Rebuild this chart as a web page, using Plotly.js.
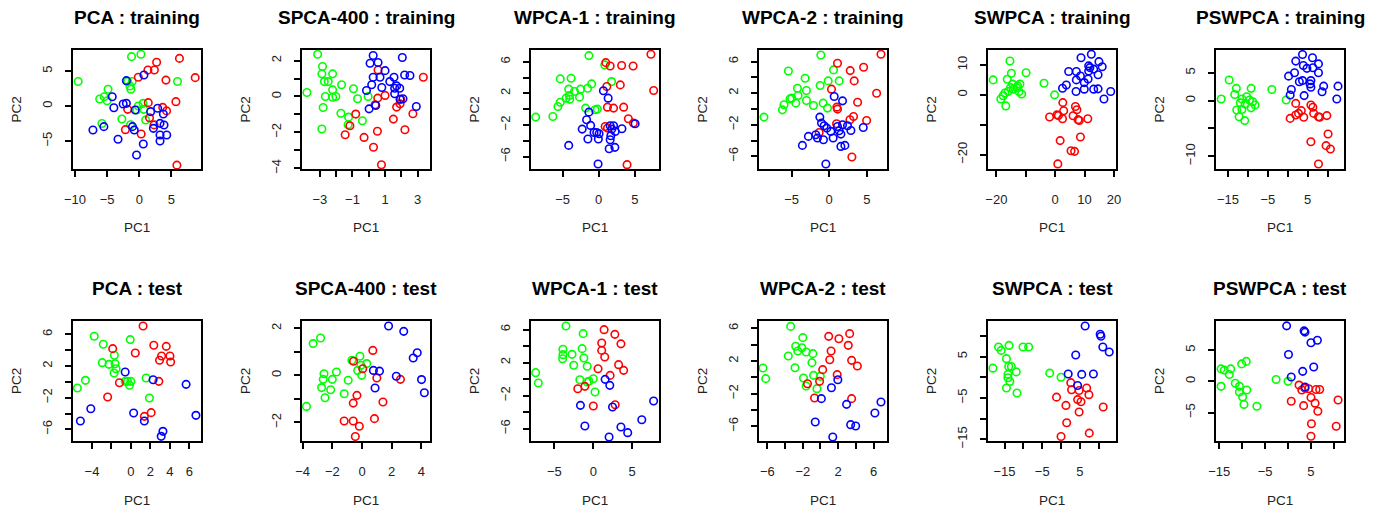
<!DOCTYPE html>
<html><head><meta charset="utf-8">
<script src="https://cdn.plot.ly/plotly-3.0.1.min.js"></script>
<style>body{margin:0;background:#fff}#chart{width:1373px;height:510px}</style>
</head><body><div id="chart"></div>
<script>
// ---------- titles ----------
const panelTitles = ["PCA : training","SPCA-400 : training","WPCA-1 : training","WPCA-2 : training","SWPCA : training","PSWPCA : training",
                     "PCA : test","SPCA-400 : test","WPCA-1 : test","WPCA-2 : test","SWPCA : test","PSWPCA : test"];
const xLabel = "PC1", yLabel = "PC2";

// ---------- data: [PC1, PC2] ----------
// PCA training
const pcaTrainGreen = [[-9.5,3.5],[-1.2,7.05],[0.26,7.4],[-1.8,3.5],[-1.1,3.5],[-1.45,2.86],[-1.3,2.4],[-4.85,2.4],[-6.15,1.0],[-5.45,1.33],[-5.0,0.76],[-5.8,-2.5],[-2.7,-1.86],[-1.35,-2.67],[-0.15,0],[-0.4,-0.57],[0.6,0.38],[0.7,-0.48],[1.0,-2.0],[5.95,3.5]];
const pcaTrainRed = [[6.25,6.8],[2.7,6.25],[1.35,5.15],[2.35,5.15],[-0.15,4.1],[4.15,3.7],[8.7,4.05],[5.7,0.62],[1.4,0.48],[3.65,-0.2],[4.25,-0.7],[-1.8,-0.48],[1.6,-1.67],[2.3,-2.7],[-2.15,-3.38],[0.3,-4.0],[5.85,-8.45]];
const pcaTrainBlue = [[0.73,4.43],[-2.0,3.62],[-4.2,1.33],[-3.95,-0.24],[-2.5,0.29],[-2.0,0.38],[-0.63,-0.57],[1.77,-0.81],[2.86,-0.33],[3.75,-1.14],[3.23,-2.48],[3.85,-2.71],[2.2,-3.19],[-1.05,-2.95],[-0.78,-3.43],[-7.2,-3.43],[-5.5,-2.95],[-3.3,-4.76],[3.23,-4.14],[4.27,-4.14],[3.23,-5.0],[0.63,-5.43],[-0.42,-7.0]];
// SPCA-400 training
const spcaTrainGreen = [[-3.14,2.35],[-2.84,1.67],[-2.88,1.26],[-2.22,1.26],[-2.73,0.83],[-2.49,0.83],[-3.8,0.22],[-2.67,0],[-2.22,0.37],[-2.22,-0.04],[-2.02,0],[-1.67,0.65],[-0.94,0.43],[-0.69,-0.13],[-0.04,0],[-2.8,-0.61],[-1.71,-0.93],[-1.24,-1.15],[-1.27,-1.57],[-0.39,-1.35],[-2.88,-1.81]];
const spcaTrainRed = [[0.57,1.48],[3.35,1.07],[1.0,0.06],[0.55,-0.09],[0.39,-0.46],[1.96,-0.15],[1.92,-0.41],[1.71,-0.59],[-0.8,-0.98],[1.51,-1.26],[2.71,-0.96],[2.22,-1.85],[-1.16,-1.63],[-1.45,-2.13],[-0.29,-2.28],[0.53,-1.94],[0.29,-2.83],[0.78,-3.8]];
const spcaTrainBlue = [[0.27,2.28],[0.08,1.85],[0.57,1.89],[2.06,2.17],[1.0,1.44],[0.27,1.07],[0.69,1.07],[1.55,1.07],[2.2,1.2],[2.53,1.17],[1.29,0.83],[0.18,0.65],[-0.14,0.33],[0.8,0.5],[1.59,0.46],[1.71,0.59],[1.9,0.46],[1.59,0.15],[1.92,-0.15],[2.1,-0.13],[0.43,-0.5],[0.02,-0.69],[2.92,-0.56]];
// WPCA-1 training
const wpca1TrainGreen = [[-1.36,6.78],[0.84,5.6],[-5.33,3.83],[-3.83,3.92],[1.78,3.49],[-4.16,2.53],[-3.36,2.23],[-2.52,2.53],[-1.54,2.65],[-0.98,3.2],[-4.07,1.73],[-4.53,1.39],[-4.02,1.26],[-2.66,1.52],[-5.33,0.88],[-5.65,0.34],[-6.36,-0.93],[-8.74,-1.01],[-1.82,0.13],[-0.51,-0.08],[-0.19,0]];
const wpca1TrainRed = [[7.24,6.95],[0.98,5.89],[1.59,5.47],[3.18,5.52],[4.77,5.47],[1.12,2.86],[2.99,3.07],[7.62,2.36],[1.21,0.25],[2.06,0.13],[3.46,0.25],[4.11,-1.22],[4.81,-1.77],[0.89,-2.19],[1.21,-2.4],[3.93,-7.03]];
const wpca1TrainBlue = [[0.65,2.32],[1.31,1.39],[-1.36,-0.38],[-1.68,-1.35],[-1.12,-2.06],[-2.29,-2.53],[-0.65,-2.95],[-0.28,-2.95],[0.05,-3.12],[-1.5,-3.79],[-0.05,-3.79],[1.59,-2.11],[2.06,-2.11],[1.82,-2.53],[2.29,-2.82],[3.22,-2.48],[1.68,-3.37],[1.59,-3.87],[5.05,-1.85],[-4.16,-4.59],[1.45,-5.01],[2.24,-4.84],[-0.09,-6.95]];
// WPCA-2 training
const wpca2TrainGreen = [[-8.67,-1.03],[-1.11,6.84],[-5.42,4.82],[-3.2,3.89],[-3.02,2.34],[-4.22,2.63],[-4.13,1.71],[-5.2,1.28],[-4.98,1.37],[-4.44,0.74],[-6.0,0.53],[-6.22,-0.11],[-3.02,1.07],[-2.09,0.44],[-1.2,2.97],[-0.13,3.56],[1.33,3.56],[0.58,4.95],[-0.8,0.74],[-0.22,0.11]];
const wpca2TrainRed = [[6.89,6.93],[1.11,5.79],[2.8,4.86],[4.58,5.28],[3.33,3.56],[0.31,2.51],[6.31,2.0],[3.78,0.86],[1.02,0.23],[1.11,-0.02],[3.24,-0.95],[2.76,-1.37],[4.98,-1.45],[0.98,-1.87],[-1.33,-2.97],[3.02,-6.08]];
const wpca2TrainBlue = [[0.67,1.58],[1.78,1.03],[-1.24,-1.03],[-1.02,-1.79],[-0.67,-2.13],[-0.31,-2.42],[0.22,-2.84],[-1.78,-3.26],[-1.56,-3.68],[-0.76,-3.89],[0.53,-3.68],[-2.76,-3.47],[-3.56,-4.61],[1.33,-2.76],[1.56,-3.18],[1.78,-2.0],[2.44,-2.13],[2.89,-2.72],[4.53,-2.34],[1.56,-4.74],[2.09,-4.61],[-0.44,-6.97],[1.11,-2.21]];
// SWPCA training
const swpcaTrainGreen = [[-21.1,5.0],[-15.4,11.3],[-14.9,7.2],[-16.3,5.2],[-9.9,7.4],[-14.5,3.6],[-15.2,2.4],[-16.0,1.1],[-17.1,0.6],[-18.5,-1.4],[-17.7,-0.3],[-16.8,-3.7],[-12.8,3.0],[-12.0,3.6],[-12.3,1.1],[-11.4,0.3],[-13.1,2.4],[-14.3,1.9],[-3.8,3.9],[-0.2,0]];
const swpcaTrainRed = [[2.6,-2.6],[2.9,-5.3],[2.5,-8.0],[0.6,-6.7],[1.1,-6.9],[-1.9,-7.4],[6.9,-3.9],[7.4,-5.0],[6.1,-7.0],[7.8,-8.3],[11.1,-8.0],[8.2,-8.6],[8.6,-14.1],[1.7,-15.3],[5.4,-18.7],[6.6,-18.9],[0.9,-23.1]];
const swpcaTrainBlue = [[12.3,13.6],[8.8,12.4],[14.9,11.1],[11.4,9.7],[11.8,9.1],[13.1,8.6],[16.0,9.4],[4.6,7.8],[7.2,7.8],[8.6,6.3],[7.2,5.0],[9.9,4.1],[11.2,5.3],[14.6,6.7],[11.4,8.0],[3.8,3.3],[2.5,2.2],[9.9,1.9],[7.1,1.1],[13.1,1.9],[14.6,2.0],[18.9,1.1],[16.6,-1.4]];
// PSWPCA training
const pswpcaTrainGreen = [[-16.7,0.3],[-14.7,3.7],[-12.9,2.2],[-13.3,1.1],[-11.5,0.3],[-11.9,-0.4],[-10.3,0.7],[-9.6,0.1],[-9.2,2.2],[-8.8,-0.2],[-8.2,-0.8],[-9.2,-1.3],[-10.7,-0.6],[-11.5,-1.6],[-12.8,-1.7],[-12.2,-2.9],[-10.8,-3.6],[-4.0,2.0],[-0.4,0.1]];
const pswpcaTrainRed = [[2.0,-0.5],[0.6,-3.2],[2.0,-2.6],[2.7,-2.3],[3.4,-1.8],[4.0,-3.0],[5.8,-0.8],[6.3,-1.2],[6.5,-2.3],[7.7,-2.9],[8.0,-3.0],[9.8,-2.7],[5.8,-7.4],[10.1,-6.0],[9.6,-8.1],[10.7,-8.7],[7.7,-11.4]];
const pswpcaTrainBlue = [[3.7,8.3],[6.2,7.7],[2.0,7.1],[3.9,6.3],[4.8,5.8],[6.3,5.9],[7.7,6.6],[7.7,5.0],[1.7,5.0],[0.2,4.4],[2.9,3.4],[3.7,3.6],[5.8,3.6],[5.6,3.0],[5.8,2.4],[9.0,2.6],[8.6,1.6],[12.6,2.6],[12.3,0.3],[0.9,2.0],[0.6,1.0],[4.1,0.9]];
// PCA test
const pcaTestGreen = [[-3.77,5.75],[-2.84,4.74],[-0.07,5.33],[-1.7,3.35],[-2.94,2.42],[-2.25,2.21],[-1.63,2.29],[-1.52,1.66],[-1.73,1.12],[-4.67,0.19],[-5.5,-0.78],[-0.59,0.06],[-0.35,0.06],[0,0.06],[-0.14,-0.44],[1.56,0.48],[1.9,-2.04]];
const pcaTestRed = [[1.25,7.05],[-1.87,4.19],[0.45,3.64],[2.35,4.61],[3.63,4.48],[3.15,3.26],[2.94,2.72],[4.01,3.26],[4.08,2.51],[-1.18,-0.11],[2.87,0.06],[-2.39,-1.92],[2.08,-3.89],[1.38,-4.36]];
const pcaTestBlue = [[-0.59,1.24],[2.28,0.27],[5.67,-0.32],[-4.12,-3.39],[-5.19,-4.95],[0.28,-3.94],[1.38,-4.95],[3.29,-6.25],[3.11,-6.88],[6.68,-4.23]];
// SPCA-400 test
const spcaTestGreen = [[-3.29,1.35],[-2.79,1.59],[-3.74,-1.32],[-2.56,0.07],[-2.61,-0.17],[-1.72,0.14],[-2.0,-0.17],[-2.72,-0.52],[-2.11,-0.61],[-2.49,-0.95],[-1.2,-0.78],[-0.93,-0.21],[-0.68,0.64],[-0.14,0.81],[0.32,0.5],[-0.29,0.21],[-0.02,0],[-0.07,0.43]];
const spcaTestRed = [[-0.57,0.6],[0.73,1.06],[0.05,0.28],[1.0,-0.11],[2.59,-0.17],[-0.34,-0.85],[-0.59,-1.18],[1.41,-1.13],[-1.2,-1.94],[-0.59,-1.94],[-0.18,-2.16],[0.84,-1.84],[-0.45,-2.6]];
const spcaTestBlue = [[1.79,2.1],[2.81,1.87],[3.72,0.96],[3.45,0.74],[0.77,0.21],[1.18,0.18],[2.31,-0.04],[4.01,-0.18],[0.88,-0.54],[4.2,-0.74]];
// WPCA-1 test
const wpca1TestGreen = [[-3.51,6.44],[-1.3,5.52],[-3.9,3.62],[-1.43,3.7],[-3.9,2.97],[-3.94,2.48],[-2.73,3.01],[-1.21,2.57],[-2.51,1.68],[-0.78,1.56],[-7.4,0.79],[-7.06,-0.46],[-1.73,-0.06],[-0.78,-0.34],[0,0.06],[0.22,-1.56],[-0.56,-0.26]];
const wpca1TestRed = [[1.39,6.0],[2.77,5.43],[3.55,4.28],[1.08,4.38],[1.08,3.49],[1.47,2.69],[3.25,1.76],[3.9,1.07],[0.61,1.27],[2.16,0.46],[-1.99,-1.15],[-1.08,-0.87],[2.81,-3.09],[0,-3.25]];
const wpca1TestBlue = [[1.52,-0.02],[2.12,-0.75],[7.75,-2.65],[-1.65,-3.17],[2.47,-3.37],[6.23,-4.91],[-1.08,-5.68],[3.55,-5.8],[4.42,-6.48],[2.03,-7.01]];
// WPCA-2 test
const wpca2TestGreen = [[-3.37,6.24],[-2.0,4.86],[-2.8,3.8],[-2.57,3.22],[-2.11,3.63],[-1.62,3.1],[-0.86,2.9],[-3.64,2.61],[-0.97,1.8],[-2.88,1.18],[-6.5,1.14],[-6.19,-0.16],[-1.92,-0.08],[-0.78,0.24],[-0.02,0.12],[-1.62,-1.06],[-0.4,-1.39]];
const wpca2TestRed = [[0.93,5.02],[2.08,4.73],[3.3,5.35],[3.14,3.92],[1.2,3.22],[1.05,2.16],[3.52,2.08],[4.17,1.39],[0.25,0.94],[1.89,0.33],[-0.1,-0.49],[-1.47,-0.78],[-0.67,-2.53],[3.52,-2.61]];
const wpca2TestBlue = [[1.96,-0.29],[1.24,-1.27],[0.1,-2.61],[2.95,-3.31],[6.84,-3.02],[6.15,-4.37],[-0.59,-5.47],[3.41,-5.8],[3.98,-5.96],[1.39,-7.31]];
// SWPCA test
const swpcaTestGreen = [[-18.1,2.2],[-16.6,7.3],[-15.9,6.5],[-13.8,7.7],[-14.5,4.5],[-13.9,2.6],[-13.2,2.6],[-11.9,1.3],[-14.1,0.7],[-14.1,-0.1],[-13.6,-1.0],[-14.5,-2.6],[-11.7,-3.8],[-10.1,7.3],[-8.6,7.3],[-3.0,1.0],[0,0]];
const swpcaTestRed = [[2.6,-1.3],[2.8,-3.0],[4.8,-3.2],[6.8,-2.6],[7.4,-4.2],[-1.2,-4.8],[1.3,-6.8],[4.4,-5.4],[5.3,-5.9],[4.8,-8.4],[11.2,-7.2],[1.5,-11.0],[7.5,-13.5],[0,-14.3]];
const swpcaTestBlue = [[6.4,12.4],[10.4,10.4],[10.6,9.9],[11.1,7.3],[12.8,6.1],[3.9,5.4],[1.9,0.8],[5.5,0.7],[8.6,0.8],[4.4,-2.0]];
// PSWPCA test
const pswpcaTestGreen = [[-14.6,2.0],[-13.9,1.8],[-12.5,2.0],[-12.8,1.1],[-10.1,2.8],[-9.1,3.2],[-14.6,-0.8],[-11.5,-0.3],[-10.6,-0.8],[-10.6,-1.7],[-9.0,-1.4],[-9.9,-2.5],[-9.6,-3.7],[-6.8,-4.0],[-2.6,0.3],[0,0]];
const pswpcaTestRed = [[2.4,-0.6],[3.0,-1.4],[4.5,-1.2],[6.1,-1.3],[6.9,-1.3],[0.7,-3.2],[3.4,-3.9],[5.0,-2.6],[5.9,-3.5],[6.5,-4.8],[10.9,-3.0],[5.1,-6.8],[10.5,-7.2],[5.0,-8.8],[3.7,-1.1]];
const pswpcaTestBlue = [[-0.3,8.9],[3.5,8.1],[3.7,7.9],[6.4,6.6],[5.0,6.2],[0.1,4.3],[5.6,2.3],[3.2,1.6],[0.7,0.7],[3.7,-0.9]];

// ---------- tick values and labels per panel ----------
const xTickVals = [[-10,-5,0,5],[-3,-2,-1,0,1,2,3],[-5,0,5],[-5,0,5],[-20,-10,0,10,20],[-15,-10,-5,0,5,10],
                   [-4,-2,0,2,4,6],[-4,-2,0,2,4],[-5,0,5],[-6,-4,-2,0,2,4,6],[-15,-10,-5,0,5,10],[-15,-10,-5,0,5,10]];
const xTickText = [["−10","−5","0","5"],["−3","","−1","","1","","3"],["−5","0","5"],["−5","0","5"],["−20","","0","10","20"],["−15","","−5","","5",""],
                   ["−4","","0","2","4","6"],["−4","−2","0","2","4"],["−5","0","5"],["−6","","−2","","2","","6"],["−15","","−5","","5",""],["−15","","−5","","5",""]];
const yTickVals = [[-5,0,5],[-4,-3,-2,-1,0,1,2],[-6,-4,-2,0,2,4,6],[-6,-4,-2,0,2,4,6],[-20,-10,0,10],[-10,-5,0,5],
                   [-6,-4,-2,0,2,4,6],[-2,-1,0,1,2],[-6,-4,-2,0,2,4,6],[-6,-4,-2,0,2,4,6],[-15,-10,-5,0,5,10],[-5,0,5]];
const yTickText = [["−5","0","5"],["−4","","−2","","0","","2"],["−6","","−2","","2","","6"],["−6","","−2","","2","","6"],["−20","","0","10"],["−10","","0","5"],
                   ["−6","","−2","","2","","6"],["−2","","0","","2"],["−6","","−2","","2","","6"],["−6","","−2","","2","","6"],["−15","","−5","","5",""],["−5","0","5"]];

// ---------- build ----------
const seriesByPanel = [
  [pcaTrainGreen,pcaTrainRed,pcaTrainBlue],[spcaTrainGreen,spcaTrainRed,spcaTrainBlue],[wpca1TrainGreen,wpca1TrainRed,wpca1TrainBlue],
  [wpca2TrainGreen,wpca2TrainRed,wpca2TrainBlue],[swpcaTrainGreen,swpcaTrainRed,swpcaTrainBlue],[pswpcaTrainGreen,pswpcaTrainRed,pswpcaTrainBlue],
  [pcaTestGreen,pcaTestRed,pcaTestBlue],[spcaTestGreen,spcaTestRed,spcaTestBlue],[wpca1TestGreen,wpca1TestRed,wpca1TestBlue],
  [wpca2TestGreen,wpca2TestRed,wpca2TestBlue],[swpcaTestGreen,swpcaTestRed,swpcaTestBlue],[pswpcaTestGreen,pswpcaTestRed,pswpcaTestBlue]];
const colors = ["#00FF00","#FF0000","#0000FF"];

const W = 1373, H = 510;
const lefts = [73,302,531,759,988,1216], boxW = 128;
const rowsPx = [[50,169],[321,441]];
const xRanges = [[-10.3,9.6],[-4.1,3.76],[-9.39,8.36],[-9.33,7.69],[-22.86,20.7],[-18.0,14.1],
                 [-5.95,7.2],[-4.04,4.58],[-8.0,8.44],[-6.95,7.52],[-19.4,14.6],[-15.7,12.2]];
const yRanges = [[-9.0,8.0],[-4.04,2.59],[-7.58,7.49],[-7.6,7.47],[-24.8,15.0],[-12.3,9.1],
                 [-7.47,7.68],[-2.79,2.31],[-7.49,7.05],[-7.8,6.9],[-15.4,13.6],[-9.57,9.68]];

const font = "Liberation Sans, Arial, Helvetica, sans-serif";
const traces = [], annotations = [];
const layout = {width:W,height:H,margin:{l:0,r:0,t:0,b:0},paper_bgcolor:"#fff",plot_bgcolor:"#fff",showlegend:false,font:{family:font,color:"#000"}};

for (let p = 0; p < 12; p++) {
  const row = Math.floor(p/6), col = p % 6;
  const n = p+1;
  const xa = "x"+(n===1?"":n), ya = "y"+(n===1?"":n);
  const l = lefts[col], r = l+boxW, t = rowsPx[row][0], b = rowsPx[row][1];
  const common = {showgrid:false,zeroline:false,showline:true,mirror:true,linecolor:"#000",linewidth:2,
                  ticks:"outside",ticklen:6,tickwidth:2,tickcolor:"#000",
                  tickfont:{size:13,color:"#222",family:font},tickmode:"array",fixedrange:true};
  layout["xaxis"+(n===1?"":n)] = Object.assign({},common,{domain:[l/W,r/W],range:xRanges[p],anchor:ya,
      tickvals:xTickVals[p],ticktext:xTickText[p],ticklabelstandoff:11});
  layout["yaxis"+(n===1?"":n)] = Object.assign({},common,{domain:[1-b/H,1-t/H],range:yRanges[p],anchor:xa,
      tickvals:yTickVals[p],ticktext:yTickText[p],tickangle:-90,ticklabelstandoff:8});
  seriesByPanel[p].forEach((pts,ci) => {
    traces.push({type:"scatter",mode:"markers",xaxis:xa,yaxis:ya,
      x:pts.map(d=>d[0]),y:pts.map(d=>d[1]),
      marker:{symbol:"circle-open",size:7.5,color:colors[ci],line:{width:1.6,color:colors[ci]}},hoverinfo:"skip"});
  });
  const cx = (l+r)/2;
  annotations.push({xref:"paper",yref:"paper",x:cx/W,y:1-(row===0?18:288)/H,text:"<b>"+panelTitles[p]+"</b>",
    showarrow:false,xanchor:"center",yanchor:"middle",font:{size:19,family:font,color:"#000"}});
  annotations.push({xref:"paper",yref:"paper",x:cx/W,y:1-(row===0?227:500)/H,text:xLabel,
    showarrow:false,xanchor:"center",yanchor:"middle",font:{size:13.5,family:font,color:"#222"}});
  annotations.push({xref:"paper",yref:"paper",x:(l-57)/W,y:1-((t+b)/2)/H,text:yLabel,textangle:-90,
    showarrow:false,xanchor:"center",yanchor:"middle",font:{size:13.5,family:font,color:"#222"}});
}
layout.annotations = annotations;
Plotly.newPlot("chart",traces,layout,{staticPlot:true,displayModeBar:false});
</script>
</body></html>
